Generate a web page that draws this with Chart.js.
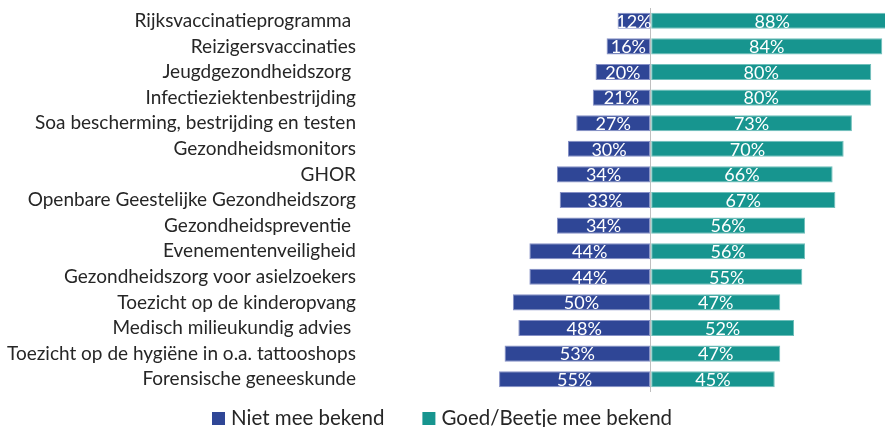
<!DOCTYPE html>
<html>
<head>
<meta charset="utf-8">
<script src="https://cdn.jsdelivr.net/npm/chart.js@4/dist/chart.umd.min.js"></script>
<style>
html,body{margin:0;padding:0;background:#fff;}
#wrap{width:885px;height:427px;position:relative;}
</style>
</head>
<body>
<div id="wrap"><canvas id="c" width="885" height="427"></canvas></div>
<script>
const categories = [
  "Rijksvaccinatieprogramma ",
  "Reizigersvaccinaties",
  "Jeugdgezondheidszorg ",
  "Infectieziektenbestrijding",
  "Soa bescherming, bestrijding en testen",
  "Gezondheidsmonitors",
  "GHOR",
  "Openbare Geestelijke Gezondheidszorg",
  "Gezondheidspreventie ",
  "Evenementenveiligheid",
  "Gezondheidszorg voor asielzoekers",
  "Toezicht op de kinderopvang",
  "Medisch milieukundig advies ",
  "Toezicht op de hygiëne in o.a. tattooshops",
  "Forensische geneeskunde"
];
const nietMeeBekend = [12, 16, 20, 21, 27, 30, 34, 33, 34, 44, 44, 50, 48, 53, 55];
const goedBeetjeMeeBekend = [88, 84, 80, 80, 73, 70, 66, 67, 56, 56, 55, 47, 52, 47, 45];
const seriesNames = ["Niet mee bekend", "Goed/Beetje mee bekend"];
const seriesColors = ["#2f4696", "#17958f"];
const borderColors = ["#8690c6", "#6fbfba"];

const FONT = "Lato, 'Open Sans', sans-serif";

const valueLabels = {
  id: 'valueLabels',
  afterDatasetsDraw(chart) {
    const ctx = chart.ctx;
    ctx.save();
    ctx.font = "18px " + FONT;
    ctx.fillStyle = "#ffffff";
    ctx.textAlign = "center";
    ctx.textBaseline = "middle";
    chart.data.datasets.forEach((ds, i) => {
      const meta = chart.getDatasetMeta(i);
      meta.data.forEach((bar, j) => {
        const v = Math.abs(ds.data[j]);
        const cx = (bar.x + bar.base) / 2;
        ctx.fillText(v + "%", cx, bar.y + 1);
      });
    });
    ctx.restore();
  }
};

const customLegend = {
  id: 'customLegend',
  afterDraw(chart) {
    const ctx = chart.ctx;
    ctx.save();
    ctx.font = "20.5px " + FONT;
    ctx.textBaseline = "alphabetic";
    const box = 13, gapBT = 6, gapItems = 38;
    const w0 = ctx.measureText(seriesNames[0]).width;
    const w1 = ctx.measureText(seriesNames[1]).width;
    const total = box + gapBT + w0 + gapItems + box + gapBT + w1;
    let x = Math.round(chart.width / 2 - total / 2);
    const yTop = 412, base = 425;
    [0, 1].forEach(i => {
      ctx.fillStyle = seriesColors[i];
      ctx.fillRect(x, yTop, box, box);
      x += box + gapBT;
      ctx.fillStyle = "#262626";
      ctx.fillText(seriesNames[i], x, base);
      x += (i === 0 ? w0 : w1) + gapItems;
    });
    ctx.restore();
  }
};

new Chart(document.getElementById('c'), {
  type: 'bar',
  data: {
    labels: categories,
    datasets: [
      {
        label: seriesNames[0],
        data: nietMeeBekend.map(v => -v),
        backgroundColor: seriesColors[0],
        borderColor: borderColors[0],
        borderWidth: 1,
        borderSkipped: false,
        barPercentage: 0.63,
        categoryPercentage: 1
      },
      {
        label: seriesNames[1],
        data: goedBeetjeMeeBekend,
        backgroundColor: seriesColors[1],
        borderColor: borderColors[1],
        borderWidth: 1,
        borderSkipped: false,
        barPercentage: 0.63,
        categoryPercentage: 1
      }
    ]
  },
  options: {
    indexAxis: 'y',
    responsive: false,
    animation: false,
    devicePixelRatio: 1,
    layout: { padding: { top: 8, bottom: 35, left: 0, right: 0 } },
    plugins: {
      legend: { display: false },
      tooltip: { enabled: false }
    },
    scales: {
      x: {
        stacked: true,
        min: -100,
        max: 85,
        afterFit: s => { s.paddingLeft = 0; s.paddingRight = 0; },
        ticks: { display: false, stepSize: 10 },
        border: { display: false },
        grid: {
          drawTicks: false,
          color: c => (c.tick && c.tick.value === 0) ? '#bfbfbf' : 'rgba(0,0,0,0)',
          lineWidth: 1
        }
      },
      y: {
        stacked: true,
        afterFit: s => { s.width = 375; s.paddingTop = 0; s.paddingBottom = 0; },
        border: { display: false },
        grid: { display: false, drawTicks: false },
        ticks: {
          padding: 19,
          autoSkip: false,
          color: '#262626',
          font: { family: FONT, size: 19 }
        }
      }
    }
  },
  plugins: [valueLabels, customLegend]
});
</script>
</body>
</html>
